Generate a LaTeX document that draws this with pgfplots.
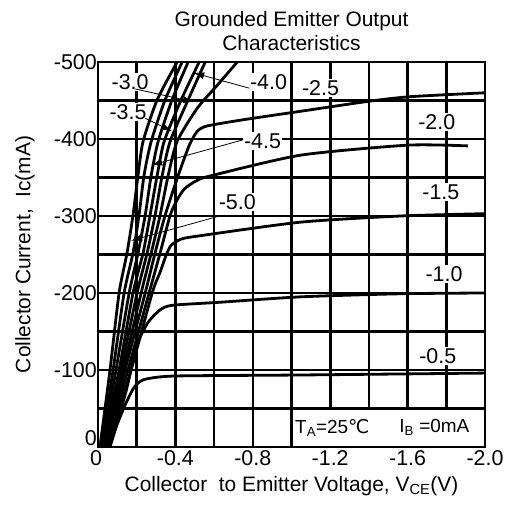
\documentclass[border=0pt]{standalone}
\usepackage{fontspec}
\setmainfont{Liberation Sans}
\newfontfamily\dejavu{DejaVu Sans}
\usepackage{pgfplots}
\pgfplotsset{compat=1.18}
\usetikzlibrary{arrows.meta}
\pgfplotsset{layers/mylayers/.define layer set={axis background,axis grid,main,axis ticks,axis lines,axis tick labels,axis descriptions,axis foreground}{}}
\tikzset{
  cond/.style={inner sep=1bp, font=\fontsize{19}{22}\selectfont},
  lbl/.style={fill=white, inner sep=1.5bp},
  ldr/.style={line width=0.8bp, -{Latex[length=11bp,width=7bp]}},
}

\begin{document}
\fontsize{21.5}{24}\selectfont
\begin{tikzpicture}
\begin{axis}[
    name=ax, set layers=mylayers,
    scale only axis, width=387bp, height=385bp,
    x dir=reverse, y dir=reverse,
    xmin=-2, xmax=0, ymin=-500, ymax=0,
    xtick={0,-0.4,-0.8,-1.2,-1.6,-2.0},
    xticklabels={\hspace*{-4bp}0,-0.4,-0.8,-1.2,-1.6,-2.0},
    minor xtick={-0.2,-0.6,-1.0,-1.4,-1.8},
    ytick={0,-100,-200,-300,-400,-500},
    yticklabels={\smash{\raisebox{1bp}{0}},-100,-200,-300,-400,-500},
    minor ytick={-50,-150,-250,-350,-450},
    grid=both,
    major grid style={black,line width=2.6bp},
    minor grid style={black,line width=2.6bp},
    axis line style={line width=2.6bp},
    tick style={black,line width=2.6bp},
    major tick length=6bp, minor tick length=6bp,
    tick align=inside,
    ticklabel style={font=\fontsize{21.5}{24}\selectfont},
    yticklabel style={inner xsep=1bp},
    xticklabel style={inner ysep=3.5bp},
    xlabel={Collector\ \ to Emitter Voltage, V\textsubscript{CE}(V)},
    ylabel={Collector Current,\ \ Ic(mA)},
    label style={font=\fontsize{21}{24}\selectfont},
    ylabel shift=11bp,
    title={Grounded Emitter Output\\Characteristics},
    title style={align=center, font=\fontsize{21}{24}\selectfont, yshift=-2bp},
    cycle list={black\\},
    no markers,
    every axis plot/.append style={black, solid, line width=2.8bp, smooth, tension=0.4},
]
% IB = -5.0 ... -3.5 and unlabeled steep curves
\addplot coordinates {(-0.010,0) (-0.062,-100) (-0.109,-200) (-0.150,-252) (-0.181,-301) (-0.207,-353) (-0.233,-397) (-0.306,-451) (-0.409,-500)};
\addplot coordinates {(-0.016,0) (-0.078,-100) (-0.135,-200) (-0.181,-252) (-0.212,-301) (-0.238,-353) (-0.275,-397) (-0.347,-451) (-0.435,-500)};
\addplot coordinates {(-0.021,0) (-0.093,-100) (-0.161,-200) (-0.207,-252) (-0.244,-301) (-0.275,-353) (-0.311,-397) (-0.383,-451) (-0.466,-500)};
\addplot coordinates {(-0.026,0) (-0.109,-100) (-0.181,-200) (-0.233,-252) (-0.269,-301) (-0.306,-353) (-0.342,-397) (-0.430,-451) (-0.523,-500)};
\addplot coordinates {(-0.031,0) (-0.119,-100) (-0.202,-200) (-0.254,-252) (-0.295,-301) (-0.332,-353) (-0.373,-397) (-0.466,-451) (-0.554,-500)};
% IB = -3.0
\addplot coordinates {(-0.036,0) (-0.130,-100) (-0.223,-200) (-0.275,-252) (-0.321,-301) (-0.363,-353) (-0.409,-397) (-0.513,-440) (-0.617,-470) (-0.720,-500)};
% IB = -2.5
\addplot coordinates {(-0.041,0) (-0.140,-100) (-0.244,-200) (-0.295,-252) (-0.347,-301) (-0.415,-353) (-0.472,-392) (-0.513,-410) (-0.565,-417) (-0.751,-425) (-1.047,-436) (-1.399,-449) (-1.617,-455) (-2.0,-460)};
% IB = -2.0
\addplot coordinates {(-0.047,0) (-0.155,-100) (-0.264,-200) (-0.321,-252) (-0.373,-301) (-0.409,-321) (-0.446,-335) (-0.503,-345) (-0.580,-352) (-1.047,-379) (-1.601,-392) (-1.912,-391)};
% IB = -1.5
\addplot coordinates {(-0.052,0) (-0.171,-100) (-0.280,-200) (-0.321,-227) (-0.352,-249) (-0.378,-262) (-0.430,-270) (-0.518,-274) (-1.047,-292) (-1.565,-300) (-2.0,-303)};
% IB = -1.0
\addplot coordinates {(-0.057,0) (-0.140,-67.5) (-0.202,-132.5) (-0.259,-162) (-0.321,-178) (-0.383,-184) (-0.632,-188) (-1.047,-195) (-1.565,-199) (-2.0,-200)};
% IB = -0.5
\addplot coordinates {(-0.062,0) (-0.098,-28.6) (-0.140,-54.5) (-0.181,-75.3) (-0.207,-83.1) (-0.249,-88.3) (-0.399,-92.2) (-1.047,-93.5) (-2.0,-96)};

% condition box
\draw[fill=white, line width=2.6bp] (axis cs:-1.0,0) rectangle (axis cs:-2.0,-50);
\node[cond, anchor=west] at (axis cs:-1.013,-25) {T\textsubscript{A}=25{\dejavu ℃}};
\node[cond, anchor=east] at (axis cs:-1.925,-25) {I\textsubscript{B} =0mA};

% curve labels
\node[lbl] at (axis cs:-0.166,-474) {-3.0};
\node[lbl] at (axis cs:-0.155,-435) {-3.5};
\node[lbl] at (axis cs:-0.881,-474) {-4.0};
\node[lbl] at (axis cs:-0.850,-397) {-4.5};
\node[lbl] at (axis cs:-0.720,-318) {-5.0};
\node[lbl] at (axis cs:-1.150,-466) {-2.5};
\node[lbl] at (axis cs:-1.751,-422) {-2.0};
\node[lbl] at (axis cs:-1.772,-331) {-1.5};
\node[lbl] at (axis cs:-1.788,-225) {-1.0};
\node[lbl] at (axis cs:-1.756,-118) {-0.5};

% leader lines
\draw[ldr] (axis cs:-0.782,-466) -- (axis cs:-0.492,-486);
\draw[ldr] (axis cs:-0.192,-465) -- (axis cs:-0.497,-448);
\draw[ldr] (axis cs:-0.244,-427) -- (axis cs:-0.383,-410);
\draw[ldr] (axis cs:-0.751,-399) -- (axis cs:-0.275,-366);
\draw[ldr] (axis cs:-0.642,-301) -- (axis cs:-0.171,-268);
\end{axis}
\pgfresetboundingbox
\path[use as bounding box] ([xshift=-98bp,yshift=-60bp]ax.south west) rectangle ([xshift=22bp,yshift=62bp]ax.north east);
\end{tikzpicture}
\end{document}
